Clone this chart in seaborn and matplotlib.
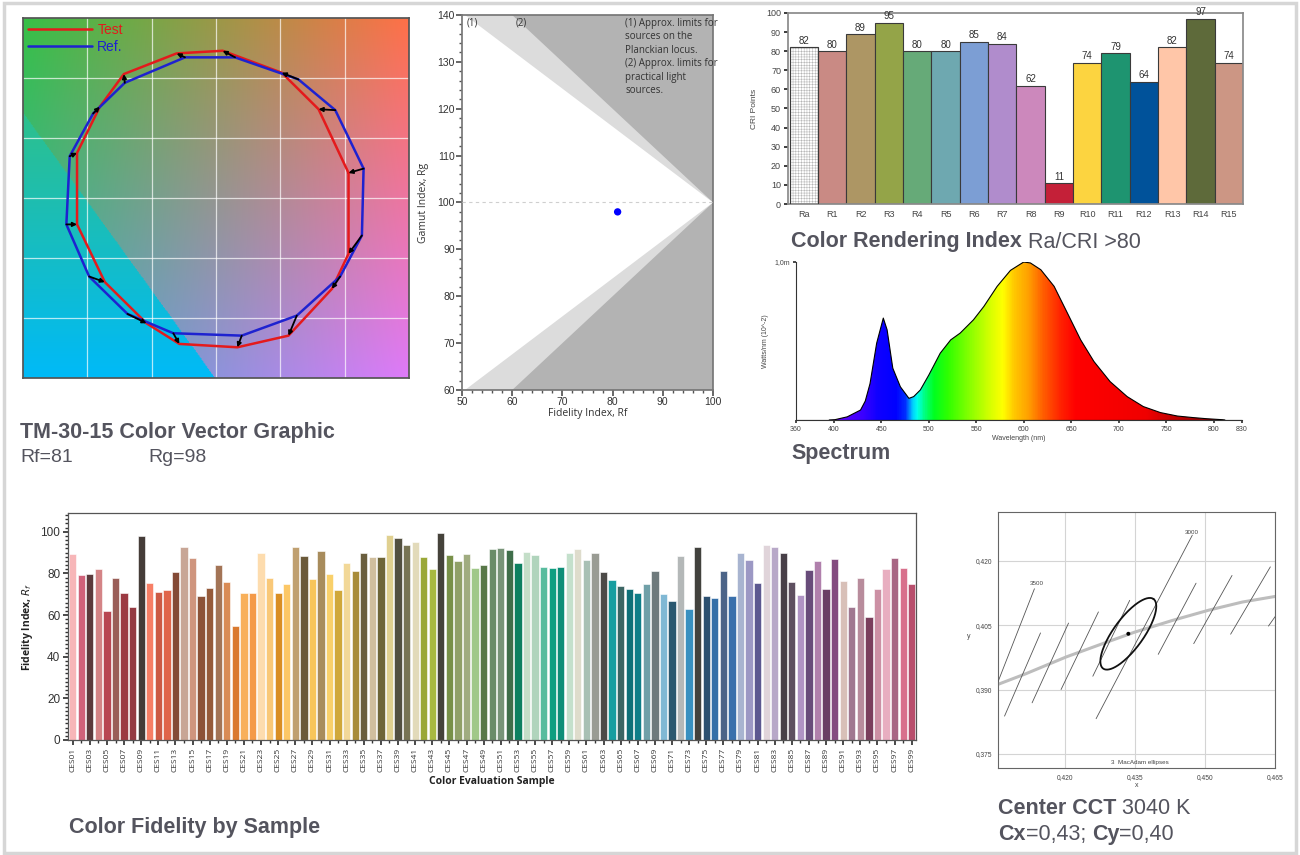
import numpy as np
import pandas as pd
import matplotlib.pyplot as plt
import matplotlib.patches as mpatches
from matplotlib.colors import LinearSegmentedColormap
from matplotlib.ticker import MultipleLocator, FuncFormatter
import seaborn as sns

# ---------------- data ----------------
# TM-30 colour vector graphic (16 hue bins), normalised coordinates
ref_x = [1.147, 0.927, 0.641, 0.148, -0.241, -0.709, -0.955, -1.137,
         -1.163, -0.986, -0.688, -0.332, 0.200, 0.628, 0.965, 1.134]
ref_y = [0.245, 0.732, 0.988, 1.172, 1.172, 0.960, 0.704, 0.348,
         -0.220, -0.654, -0.966, -1.127, -1.147, -0.980, -0.654, -0.312]
test_x = [1.030, 0.797, 0.511, 0.052, -0.306, -0.716, -0.903, -1.080,
          -1.080, -0.864, -0.540, -0.285, 0.166, 0.563, 0.901, 1.030]
test_y = [0.209, 0.740, 1.044, 1.227, 1.205, 1.033, 0.760, 0.376,
          -0.220, -0.701, -1.044, -1.216, -1.244, -1.147, -0.757, -0.465]
rf_value = 81
rg_value = 98

# CRI
cri_labels = ["Ra", "R1", "R2", "R3", "R4", "R5", "R6", "R7", "R8",
              "R9", "R10", "R11", "R12", "R13", "R14", "R15"]
cri_values = [82, 80, 89, 95, 80, 80, 85, 84, 62, 11, 74, 79, 64, 82, 97, 74]
cri_colors = ["#FFFFFF", "#C98A84", "#AD9664", "#94A448", "#66AA78", "#6EA8B0",
              "#7C9ED4", "#B08CCC", "#CC88BC", "#C42038", "#FCD440", "#1E9470",
              "#00529A", "#FFC6A8", "#5E6A3A", "#CC9684"]

# spectrum (relative)
wavelength = [395, 401, 414, 428, 433, 438, 445, 452, 456, 462, 470, 479,
              484, 491, 500, 512, 523, 533, 547, 558, 572, 586, 600, 607,
              618, 632, 646, 660, 674, 691, 709, 726, 744, 762, 779, 793,
              809, 812]
spd = [0.0, 0.002, 0.02, 0.063, 0.12, 0.23, 0.486, 0.645, 0.571, 0.328,
       0.21, 0.137, 0.148, 0.19, 0.285, 0.423, 0.507, 0.55, 0.634, 0.719,
       0.846, 0.947, 1.0, 0.994, 0.951, 0.846, 0.677, 0.507, 0.37, 0.243,
       0.148, 0.085, 0.047, 0.025, 0.015, 0.008, 0.002, 0.0]

# colour fidelity by sample
ces_labels = [f"CES{i:02d}" for i in range(1, 100)]
ces_values = [89.5, 79.0, 79.5, 82.2, 62.0, 77.7, 70.4, 63.8, 98.0, 75.2,
              71.2, 71.8, 80.9, 92.8, 87.5, 69.0, 72.9, 83.8, 75.8, 54.8,
              70.8, 70.5, 89.6, 77.9, 70.8, 74.8, 92.6, 88.5, 77.4, 90.7,
              79.5, 71.8, 85.0, 81.2, 90.0, 87.8, 87.8, 98.6, 97.0, 93.4,
              95.0, 87.8, 82.0, 99.2, 88.8, 85.9, 89.3, 82.7, 84.1, 91.8,
              92.3, 91.0, 84.9, 90.5, 88.9, 82.9, 82.4, 83.3, 90.0, 91.5,
              86.4, 90.0, 80.9, 76.6, 74.0, 72.3, 70.5, 74.8, 81.2, 70.2,
              66.8, 88.5, 63.0, 92.8, 69.0, 68.4, 81.0, 69.0, 89.7, 86.5,
              75.3, 93.7, 92.5, 90.0, 75.8, 69.4, 81.6, 86.0, 72.3, 86.9,
              76.3, 63.8, 77.9, 59.1, 72.6, 82.0, 87.3, 82.8, 74.8]
ces_colors = ["#F7B6B8", "#D0627A", "#5C3A3C", "#D48486", "#B84652", "#9A5E58",
              "#9C3A42", "#943A42", "#453C38", "#F77F66", "#CC5A44", "#E0654A",
              "#844A36", "#C8A696", "#CF957E", "#8C5238", "#955A3A", "#A37456",
              "#D98B55", "#DA7A30", "#F8B05A", "#F49A48", "#FDDCAE", "#F9C878",
              "#D98E24", "#FCC766", "#C0A070", "#6B5A3A", "#F7C55A", "#A88C5C",
              "#F9D06A", "#D0A83A", "#F2D898", "#A88C38", "#6A5E3E", "#D0BE9E",
              "#6E6538", "#E0D090", "#535040", "#787454", "#E2DABA", "#9AA838",
              "#A8B840", "#45423A", "#789048", "#90A068", "#A0AC80", "#A0C888",
              "#587848", "#6A8C68", "#789478", "#3F6E4A", "#0C8060", "#C4DEC8",
              "#B0D4BC", "#58BC9E", "#0E9E80", "#0E8E78", "#C4E0CC", "#DEDCCC",
              "#A8C0B4", "#9A9C94", "#4C4A48", "#189EA0", "#3C6664", "#0E7078",
              "#0E7E88", "#70A0A8", "#6E7A7C", "#80B8D4", "#2A5870", "#B4B8B8",
              "#3890C0", "#42423E", "#2C5070", "#3670A8", "#4C6488", "#3A70AC",
              "#A8B4D0", "#9C98C4", "#5C5890", "#E0D4DA", "#B8A8C8", "#484048",
              "#5E5060", "#B094C4", "#684C7A", "#B080AC", "#6A3E64", "#844C80",
              "#D8C0B8", "#A07890", "#B88C9C", "#7A3E5C", "#CC90A4", "#E8AEC0",
              "#A86684", "#D8708C", "#B84E6C"]

# chromaticity detail: Planckian locus, isotemperature lines, ellipse
locus_x = [0.4057, 0.4117, 0.4203, 0.4281, 0.4350, 0.4430, 0.4508, 0.4580, 0.4650]
locus_y = [0.3912, 0.3937, 0.3976, 0.4007, 0.4034, 0.4061, 0.4085, 0.4104, 0.4117]
iso_x0 = [0.4057, 0.4071, 0.4130, 0.4192, 0.4260, 0.4267, 0.4400, 0.4476, 0.4555, 0.4636]
iso_y0 = [0.3918, 0.3838, 0.3869, 0.3900, 0.3931, 0.3832, 0.3982, 0.4007, 0.4029, 0.4048]
iso_x1 = [0.4135, 0.4148, 0.4208, 0.4272, 0.4339, 0.4473, 0.4481, 0.4558, 0.4640, 0.4660]
iso_y1 = [0.4135, 0.4032, 0.4055, 0.4081, 0.4108, 0.4260, 0.4148, 0.4166, 0.4186, 0.4085]
cct_x = 0.4336
cct_y = 0.4030
ell_major = (0.0054, 0.0081)
ell_minor = (0.00258, -0.00207)

# ---------------- style ----------------
sns.set_theme(style="white")
plt.rcParams['font.family'] = ['Liberation Sans', 'DejaVu Sans']
plt.rcParams['hatch.linewidth'] = 0.35
TITLE_C = "#54545E"

W, H = 1300, 855


def box(x0, y0, x1, y1):
    return [x0 / W, 1 - y1 / H, (x1 - x0) / W, (y1 - y0) / H]


fig = plt.figure(figsize=(13, 8.55), dpi=100)
fig.patch.set_facecolor("white")

# ---------------- 1. colour vector graphic ----------------
ax1 = fig.add_axes(box(23, 18, 409, 378))
n = 400
u = np.linspace(0, 1, n)
U, V = np.meshgrid(u, u)
c_tl = np.array([55, 192, 70])
c_tr = np.array([255, 112, 72])
c_bl = np.array([60, 172, 190])
c_br = np.array([222, 122, 250])
bg = (((1 - U) * V)[..., None] * c_tl + (U * V)[..., None] * c_tr
      + ((1 - U) * (1 - V))[..., None] * c_bl + (U * (1 - V))[..., None] * c_br)
tri = V < 0.736 * (1 - U / 0.497)
s = np.clip(V / 0.736, 0, 1)[..., None]
tri_col = (1 - s) * np.array([0, 186, 248]) + s * np.array([45, 192, 140])
bg = np.where(tri[..., None], tri_col, bg) / 255
ax1.imshow(bg, extent=[-1.5, 1.5, -1.5, 1.5], origin="lower", aspect="auto", zorder=0)
for v in [-1, -0.5, 0, 0.5, 1]:
    ax1.axvline(v, color="white", lw=0.9, alpha=0.7, zorder=1)
    ax1.axhline(v, color="white", lw=0.9, alpha=0.7, zorder=1)
ax1.plot(test_x + test_x[:1], test_y + test_y[:1], color="#E41A1C", lw=1.8, label="Test", zorder=3)
ax1.plot(ref_x + ref_x[:1], ref_y + ref_y[:1], color="#1E22D0", lw=1.8, label="Ref.", zorder=3)
for rx, ry, tx, ty in zip(ref_x, ref_y, test_x, test_y):
    ax1.annotate("", xy=(tx, ty), xytext=(rx, ry),
                 arrowprops=dict(arrowstyle="-|>", color="black", lw=1.3,
                                 mutation_scale=6, shrinkA=0, shrinkB=0), zorder=4)
ax1.set_xlim(-1.5, 1.5)
ax1.set_ylim(-1.5, 1.5)
ax1.set_xticks([])
ax1.set_yticks([])
for sp in ax1.spines.values():
    sp.set_color("#555555")
ax1.legend(loc="upper left", frameon=False, fontsize=10, handlelength=4.6,
           borderaxespad=0.0, borderpad=0.35, labelspacing=0.2, handletextpad=0.4,
           labelcolor="linecolor")

fig.text(20 / W, 1 - 432 / H, "TM-30-15 Color Vector Graphic", fontsize=15.5,
         fontweight="bold", color=TITLE_C, va="center")
fig.text(20 / W, 1 - 457 / H, f"Rf={rf_value}", fontsize=14, color=TITLE_C, va="center")
fig.text(148 / W, 1 - 457 / H, f"Rg={rg_value}", fontsize=14, color=TITLE_C, va="center")

# ---------------- 2. gamut vs fidelity ----------------
ax2 = fig.add_axes(box(462, 15, 713, 390))
ax2.set_facecolor("#B3B3B3")
ax2.fill([100, 60, 50, 50, 60], [100, 140, 140, 60, 60], color="#DCDCDC", lw=0, zorder=1)
ax2.fill([100, 50.6, 50, 50, 50.6], [100, 140, 140, 60, 60], color="white", lw=0, zorder=2)
ax2.plot([50, 100], [100, 100], ls=(0, (3, 3)), color="#CFCFCF", lw=0.8, zorder=3)
sns.scatterplot(x=[rf_value], y=[rg_value], color="#0000FF", s=28, edgecolor="none",
                ax=ax2, zorder=5)
ax2.set_xlim(50, 100)
ax2.set_ylim(60, 140)
ax2.xaxis.set_major_locator(MultipleLocator(10))
ax2.xaxis.set_minor_locator(MultipleLocator(2))
ax2.yaxis.set_major_locator(MultipleLocator(10))
ax2.yaxis.set_minor_locator(MultipleLocator(2))
ax2.tick_params(which="both", bottom=True, left=True, direction="out", color="#555555",
                labelsize=7.5, labelcolor="#333333", pad=1)
ax2.tick_params(which="major", length=4)
ax2.tick_params(which="minor", length=2)
for sp in ax2.spines.values():
    sp.set_color("#777777")
ax2.set_xlabel("Fidelity Index, Rf", fontsize=7.5, color="#333333", family="Open Sans", labelpad=1)
ax2.set_ylabel("Gamut Index, Rg", fontsize=7.5, color="#333333", family="Open Sans", labelpad=6)
ax2.text(50.9, 138.3, "(1)", fontsize=7, color="#333333", va="center", family="Open Sans", zorder=6)
ax2.text(60.7, 138.3, "(2)", fontsize=7, color="#333333", va="center", family="Open Sans", zorder=6)
ax2.text(82.5, 139.4, "(1) Approx. limits for\nsources on the\nPlanckian locus.",
         fontsize=7, color="#333333", va="top", family="Open Sans", linespacing=1.3, zorder=6)
ax2.text(82.5, 130.8, "(2) Approx. limits for\npractical light\nsources.",
         fontsize=7, color="#333333", va="top", family="Open Sans", linespacing=1.3, zorder=6)

# ---------------- 3. CRI bars ----------------
ax3 = fig.add_axes(box(788, 13, 1243, 204))
cri_df = pd.DataFrame({"label": cri_labels, "value": cri_values})
sns.barplot(data=cri_df, x="label", y="value", hue="label", palette=cri_colors,
            width=1.0, edgecolor="#3A3A3A", linewidth=0.8, saturation=1,
            legend=False, ax=ax3)
ra_bar = ax3.patches[0]
ra_bar.set_edgecolor("#B4B4B4")
ra_bar.set_hatch("++++++")
ax3.add_patch(mpatches.Rectangle(ra_bar.get_xy(), ra_bar.get_width(), ra_bar.get_height(),
                                 fill=False, edgecolor="#3A3A3A", lw=0.8, zorder=3))
for c in ax3.containers:
    ax3.bar_label(c, fontsize=7, color="#333333", padding=1)
ax3.set_xlim(-0.56, 15.5)
ax3.set_ylim(0, 100)
ax3.yaxis.set_major_locator(MultipleLocator(10))
ax3.tick_params(axis="y", left=True, length=3, labelsize=6.5, labelcolor="#444444", pad=2)
ax3.tick_params(axis="x", length=0, labelsize=6.5, labelcolor="#444444", pad=4)
ax3.set_xlabel("")
ax3.set_ylabel("CRI Points", fontsize=6, color="#444444", labelpad=6)
for sp in ax3.spines.values():
    sp.set_color("#8A8A8A")

t_cri = fig.text(791 / W, 1 - 242 / H, "Color Rendering Index", fontsize=15.5,
                 fontweight="bold", color=TITLE_C, va="center")
ax3.annotate(" Ra/CRI >80", xy=(1, 0), xycoords=t_cri, va="bottom", ha="left",
             fontsize=15.5, color=TITLE_C, annotation_clip=False)

# ---------------- 4. spectrum ----------------
ax4 = fig.add_axes(box(796, 262, 1242, 420))
spec_stops = [(360, "#6000C0"), (400, "#6A00FF"), (430, "#3A00FF"), (445, "#1000FF"),
              (465, "#0000FF"), (475, "#0030FF"), (482, "#00C8FF"), (487, "#00FFF0"),
              (495, "#00FF80"), (505, "#00FF20"), (520, "#30FF00"), (545, "#90FF00"),
              (565, "#D8FF00"), (578, "#FFFF00"), (590, "#FFC800"), (605, "#FFA000"),
              (620, "#FF6000"), (640, "#FF2000"), (655, "#FF0000"), (730, "#F00000"),
              (760, "#C00000"), (790, "#A00000"), (830, "#700000")]
spec_cmap = LinearSegmentedColormap.from_list(
    "spec", [((w - 360) / 470, c) for w, c in spec_stops])
grad = np.linspace(360, 830, 940).reshape(1, -1)
im = ax4.imshow(grad, extent=[360, 830, 0, 1.0], aspect="auto", cmap=spec_cmap,
                vmin=360, vmax=830, origin="lower", zorder=1)
clip = mpatches.Polygon(np.column_stack([wavelength, spd]), closed=True,
                        transform=ax4.transData, facecolor="none", edgecolor="none")
ax4.add_patch(clip)
im.set_clip_path(clip)
sns.lineplot(x=wavelength, y=spd, color="black", lw=0.8, ax=ax4, zorder=3)
ax4.plot([360, 830], [0, 0], color="black", lw=0.8, zorder=3)
ax4.set_xlim(360, 830)
ax4.set_ylim(0, 1.0)
ax4.set_xticks([360, 400, 450, 500, 550, 600, 650, 700, 750, 800, 830])
ax4.set_yticks([1.0])
ax4.set_yticklabels(["1,0m"])
ax4.tick_params(which="both", bottom=True, left=True, length=2.5, labelsize=5,
                labelcolor="#444444", pad=2, color="#333333")
for side in ["top", "right"]:
    ax4.spines[side].set_visible(False)
for side in ["left", "bottom"]:
    ax4.spines[side].set_color("#333333")
    ax4.spines[side].set_linewidth(0.8)
ax4.set_xlabel("Wavelength (nm)", fontsize=5, color="#444444", labelpad=1)
ax4.set_ylabel("Watts/nm (10^-2)", fontsize=5, color="#444444", labelpad=4)
fig.text(791 / W, 1 - 454 / H, "Spectrum", fontsize=15.5, fontweight="bold",
         color=TITLE_C, va="center")

# ---------------- 5. colour fidelity by sample ----------------
ax5 = fig.add_axes(box(68, 513, 916, 740))
ces_df = pd.DataFrame({"sample": ces_labels, "rf": ces_values})
sns.barplot(data=ces_df, x="sample", y="rf", hue="sample", palette=ces_colors,
            width=0.85, edgecolor="white", linewidth=0.4, saturation=1,
            legend=False, ax=ax5)
ax5.set_xlim(-0.55, 98.5)
ax5.set_ylim(0, 109)
ax5.set_xticks(range(0, 99, 2))
ax5.set_xticklabels(ces_labels[::2], rotation=90, fontsize=6, color="#333333",
                    family="Open Sans")
ax5.xaxis.set_minor_locator(MultipleLocator(1))
ax5.yaxis.set_major_locator(MultipleLocator(20))
ax5.yaxis.set_minor_locator(MultipleLocator(2))
ax5.tick_params(which="both", bottom=True, left=True, direction="out", color="#333333")
ax5.tick_params(which="major", length=3.5, pad=2)
ax5.tick_params(which="minor", length=2)
ax5.tick_params(axis="y", labelsize=8.5, labelcolor="#333333")
ax5.set_xlabel("Color Evaluation Sample", fontsize=7.5, fontweight="bold",
               color="#222222", family="Open Sans", labelpad=3)
ax5.set_ylabel(r"Fidelity Index, $R_f$", fontsize=7.5, fontweight="bold",
               color="#222222", family="Open Sans", labelpad=4)
for sp in ax5.spines.values():
    sp.set_color("#555555")
    sp.set_linewidth(0.9)
fig.text(69 / W, 1 - 827 / H, "Color Fidelity by Sample", fontsize=15.5,
         fontweight="bold", color=TITLE_C, va="center")

# ---------------- 6. CCT / MacAdam ----------------
ax6 = fig.add_axes(box(998, 512, 1275, 768))
ax6.set_xlim(0.4057, 0.465)
ax6.set_ylim(0.3717, 0.4314)
ax6.set_xticks([0.420, 0.435, 0.450, 0.465])
ax6.set_yticks([0.375, 0.390, 0.405, 0.420])
comma = FuncFormatter(lambda v, p: f"{v:.3f}".replace(".", ","))
ax6.xaxis.set_major_formatter(comma)
ax6.yaxis.set_major_formatter(comma)
ax6.grid(True, color="#D4D4D4", lw=0.8)
ax6.tick_params(length=0, labelsize=4.8, labelcolor="#444444", pad=4)
ax6.set_xlabel("x", fontsize=5, color="#444444", labelpad=1)
ax6.set_ylabel("y", fontsize=5, color="#444444", rotation=0, labelpad=5)
for sp in ax6.spines.values():
    sp.set_color("#666666")
    sp.set_linewidth(0.8)
sns.lineplot(x=locus_x, y=locus_y, color="#BDBDBD", lw=2.2, ax=ax6, zorder=2)
for x0, y0, x1, y1 in zip(iso_x0, iso_y0, iso_x1, iso_y1):
    ax6.plot([x0, x1], [y0, y1], color="#555555", lw=0.6, zorder=3)
t = np.linspace(0, 2 * np.pi, 200)
ex = cct_x + ell_major[0] * np.cos(t) + ell_minor[0] * np.sin(t)
ey = cct_y + ell_major[1] * np.cos(t) + ell_minor[1] * np.sin(t)
ax6.plot(ex, ey, color="#111111", lw=1.3, zorder=4)
sns.scatterplot(x=[cct_x], y=[cct_y], color="black", s=8, edgecolor="none", ax=ax6, zorder=5)
ax6.text(0.4139, 0.4147, "3500", fontsize=4.5, color="#444444", ha="center", va="center")
ax6.text(0.4471, 0.4266, "3000", fontsize=4.5, color="#444444", ha="center", va="center")
ax6.text(0.4361, 0.3730, "3  MacAdam ellipses", fontsize=4.5, color="#444444",
         ha="center", va="center")

t_cct = fig.text(998 / W, 1 - 808 / H, "Center CCT", fontsize=15.5, fontweight="bold",
                 color=TITLE_C, va="center")
ax6.annotate(" 3040 K", xy=(1, 0), xycoords=t_cct, va="bottom", ha="left",
             fontsize=15.5, color=TITLE_C, annotation_clip=False)
t_cx = fig.text(998 / W, 1 - 834 / H, "Cx", fontsize=15.5, fontweight="bold",
                color=TITLE_C, va="center")
t_cx2 = ax6.annotate("=0,43; ", xy=(1, 0), xycoords=t_cx, va="bottom", ha="left",
                     fontsize=15.5, color=TITLE_C, annotation_clip=False)
t_cy = ax6.annotate("Cy", xy=(1, 0), xycoords=t_cx2, va="bottom", ha="left",
                    fontsize=15.5, fontweight="bold", color=TITLE_C, annotation_clip=False)
ax6.annotate("=0,40", xy=(1, 0), xycoords=t_cy, va="bottom", ha="left",
             fontsize=15.5, color=TITLE_C, annotation_clip=False)

# outer frame
fig.add_artist(mpatches.Rectangle((4 / W, 2 / H), 1292 / W, 850 / H,
                                  transform=fig.transFigure, fill=False,
                                  edgecolor="#D6D6D6", lw=2.5))

fig.savefig("out.png", dpi=100)
